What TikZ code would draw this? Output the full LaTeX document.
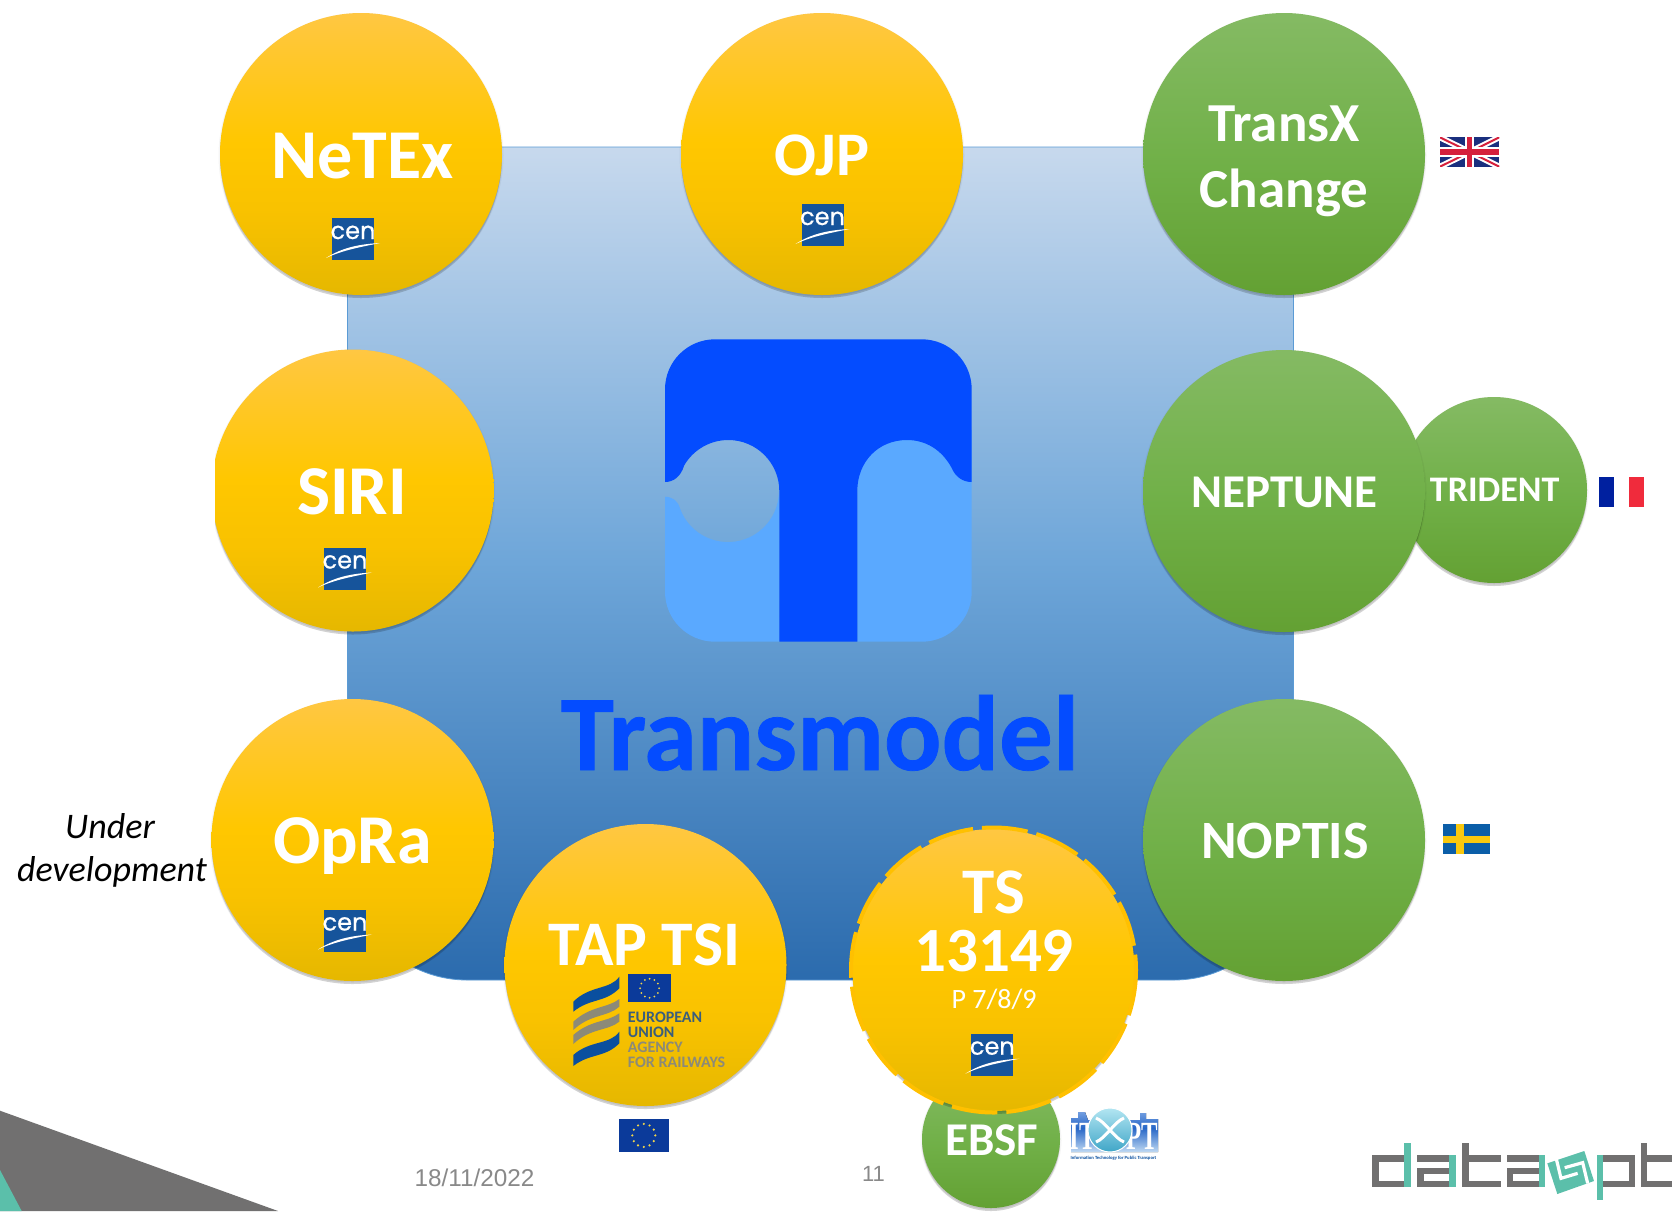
\documentclass[tikz,border=0pt]{standalone}
\usepackage{fontspec}
\usetikzlibrary{calc}
\setmainfont{Carlito}
\newfontfamily\arialf{Liberation Sans}
\newfontfamily\cenfont{Poppins}
\newfontfamily\serff{Liberation Serif}
\definecolor{rectline}{HTML}{5B9BD5}
\definecolor{tdark}{HTML}{044CFF}
\definecolor{tlight}{HTML}{5AA9FF}
\definecolor{cenblue}{HTML}{16549B}
\definecolor{teal4}{HTML}{5BBFAA}
\definecolor{gray4}{HTML}{717070}
\definecolor{ftgray}{HTML}{898989}
\definecolor{eublue}{HTML}{0B3A9A}
\definecolor{eustar}{HTML}{F2D64B}
\definecolor{ukblue}{HTML}{1A2F7E}
\definecolor{ukred}{HTML}{D5203C}
\definecolor{frblue}{HTML}{00209F}
\definecolor{frred}{HTML}{F02B3C}
\definecolor{seblue}{HTML}{0B5EA8}
\definecolor{seyel}{HTML}{F9C80E}
\definecolor{eraBlue}{HTML}{0A4F9F}
\definecolor{eraGray}{HTML}{8C8A78}
\definecolor{eraTxt}{HTML}{3A5E7C}
\definecolor{dashyel}{HTML}{FFC000}
\pgfdeclareverticalshading{bluerect}{100bp}{
  rgb(0bp)=(0.17,0.42,0.68); rgb(25bp)=(0.17,0.42,0.68);
  rgb(50bp)=(0.43,0.65,0.85); rgb(75bp)=(0.78,0.85,0.93); rgb(100bp)=(0.78,0.85,0.93)}
\pgfdeclareverticalshading{yelball}{100bp}{
  rgb(0bp)=(0.90,0.72,0.0); rgb(25bp)=(0.90,0.72,0.0);
  rgb(40bp)=(0.975,0.76,0.0); rgb(52bp)=(1,0.78,0.0);
  rgb(75bp)=(1,0.78,0.26); rgb(100bp)=(1,0.78,0.26)}
\pgfdeclareverticalshading{grnball}{100bp}{
  rgb(0bp)=(0.39,0.63,0.20); rgb(25bp)=(0.39,0.63,0.20);
  rgb(48bp)=(0.44,0.69,0.28);
  rgb(75bp)=(0.52,0.73,0.39); rgb(100bp)=(0.52,0.73,0.39)}
\pgfdeclareverticalshading{itxball}{100bp}{
  rgb(0bp)=(0.25,0.65,0.78); rgb(25bp)=(0.25,0.65,0.78);
  rgb(75bp)=(0.70,0.90,0.95); rgb(100bp)=(0.70,0.90,0.95)}
\pgfdeclareverticalshading{itxbar}{100bp}{
  rgb(0bp)=(0.75,0.85,0.95); rgb(25bp)=(0.75,0.85,0.95);
  rgb(55bp)=(0.15,0.40,0.78); rgb(75bp)=(0.45,0.62,0.88); rgb(100bp)=(0.45,0.62,0.88)}
\tikzset{
  ballshadow/.style={
    preaction={fill=black,fill opacity=.07,transform canvas={yshift=-1.5bp},draw=black,draw opacity=.04,line width=3bp},
    preaction={fill=black,fill opacity=.14,transform canvas={yshift=-3bp}}},
  ball/.style={circle,inner sep=0pt,outer sep=0pt,ballshadow},
  yball/.style={ball,shading=yelball},
  gball/.style={ball,shading=grnball},
  ltxt/.style={white,font=\bfseries,anchor=base,inner sep=0pt},
  ftxt/.style={ftgray,anchor=base,inner sep=0pt},
  cenbox/.style={rectangle,fill=cenblue,inner sep=0pt,minimum size=42bp},
  flagbox/.style={rectangle,inner sep=0pt,outer sep=0pt},
}
\newcommand{\fs}[1]{\fontsize{#1bp}{#1bp}\selectfont}
% CEN logo centred at named coordinate
\newcommand{\cenlogo}[3]{%
  \node[cenbox] (#1) at (#2,#3) {};
  \node[white,inner sep=0pt,anchor=base] (#1t) at (#2,#3) {\cenfont\fontsize{24bp}{24bp}\selectfont\addfontfeature{FakeBold=0.6}cen};
  \fill[white,shift={(#2,#3)}] (-27,19) .. controls (-10,8) and (8,5) .. (27,4)
     .. controls (8,8) and (-10,11) .. (-27,19) -- cycle;
}
\newcommand{\eustars}[4]{% cx cy r s
  \foreach \a in {0,30,...,330}{\fill[eustar] ($(#1,#2)+(\a:#3)$) circle[radius=#4];}}
\begin{document}
\begin{tikzpicture}[x=1bp,y=-1bp]
\useasboundingbox (0,0) rectangle (1672,1211);
\fill[white] (0,0) rectangle (1672,1211);
% corner triangles
\fill[gray4] (0,1110.7) -- (278,1211) -- (0,1211) -- cycle;
\fill[teal4] (0,1170) -- (21.7,1211) -- (0,1211) -- cycle;
% big rectangle
\path[shading=bluerect,draw=rectline,line width=.8bp]
  (347.5,147) -- (1293.5,147) -- (1293.5,860) arc[start angle=0,end angle=90,radius=120] -- (467.5,980)
  arc[start angle=90,end angle=180,radius=120] -- cycle;
% T logo
\fill[tlight] (665,496.7) .. controls (673,497) and (678,501) .. (680,508.5)
   arc[start angle=160,end angle=0,radius=51] -- (779.3,641.7) -- (715,641.7)
   arc[start angle=90,end angle=180,radius=50] -- cycle;
\fill[tlight] (857.3,430) -- (857.3,641.7) -- (921.7,641.7) arc[start angle=90,end angle=0,radius=50] -- (971.7,430) -- cycle;
\fill[tdark] (665,482) -- (665,389.3) arc[start angle=180,end angle=270,radius=50] -- (921.7,339.3)
   arc[start angle=270,end angle=360,radius=50] -- (971.7,482)
   .. controls (962,482) and (955,476) .. (951.7,468)
   .. controls (942,450) and (926,440) .. (907,440)
   .. controls (878,440) and (857.3,462) .. (857.3,491) -- (857.3,641.7) -- (779.3,641.7) -- (779.3,491)
   arc[start angle=0,end angle=-150,radius=51]
   .. controls (681,476) and (674,482) .. (665,482) -- cycle;
\node[text=tdark,font=\bfseries\fs{107}\addfontfeature{FakeBold=0.7},anchor=base,inner sep=0pt] (transmodel) at (820,770) {Transmodel};
% balls
\node[gball,minimum size=186bp] (trident) at (1494,490) {};
\node[ltxt,font=\bfseries\fs{36}] (tridentT) at (1494.7,501) {TRIDENT};
\node[yball,minimum size=282bp] (netex) at (361,154) {};
\node[ltxt,font=\bfseries\fs{70}] (netexT) at (362.5,178) {NeTEx};
\node[yball,minimum size=282bp] (ojp) at (822,154) {};
\node[ltxt,font=\bfseries\fs{62}] (ojpT) at (822,175) {OJP};
\node[gball,minimum size=282bp] (transx) at (1284,154) {};
\node[ltxt,font=\bfseries\fs{55}] (transxT) at (1284,141) {TransX};
\node[ltxt,font=\bfseries\fs{55}] (changeT) at (1284,207) {Change};
\begin{scope}
\clip (215,300) rectangle (560,680);
\node[yball,minimum size=282bp] (siri) at (352.7,490.5) {};
\end{scope}
\node[ltxt,font=\bfseries\fs{70}] (siriT) at (352,514.5) {SIRI};
\node[gball,minimum size=282bp] (neptune) at (1284,491) {};
\node[ltxt,font=\bfseries\fs{47}] (neptuneT) at (1284.5,507.6) {NEPTUNE};
\node[yball,minimum size=282bp] (opra) at (352.5,840) {};
\node[ltxt,font=\bfseries\fs{70}] (opraT) at (352.5,863.5) {OpRa};
\node[gball,minimum size=282bp] (noptis) at (1284,840) {};
\node[ltxt,font=\bfseries\fs{54}] (noptisT) at (1285,858.5) {NOPTIS};
\node[yball,minimum size=282bp] (tap) at (645.5,965) {};
\node[ltxt,font=\bfseries\fs{63.5}] (tapT) at (644.5,965) {TAP TSI};
\node[gball,minimum size=138bp] (ebsf) at (991,1139) {};
\node[ltxt,font=\bfseries\fs{47}] (ebsfT) at (991.7,1155) {EBSF};
\node[yball,minimum size=282bp] (ts) at (993.5,970) {};
\draw[dashyel,line width=4bp,dash pattern=on 46bp off 9bp] (ts.center) circle[radius=142.5];
\node[ltxt,font=\bfseries\fs{65}] (tsT) at (993.5,913.5) {TS};
\node[ltxt,font=\bfseries\fs{63}] (numT) at (994,971) {13149};
\node[white,anchor=base,inner sep=0pt,font=\fs{28}] (partT) at (994,1008) {P 7/8/9};
% CEN logos
\cenlogo{cenA}{353}{239}
\cenlogo{cenB}{822.5}{225}
\cenlogo{cenC}{345}{568.5}
\cenlogo{cenD}{345}{930.5}
\cenlogo{cenE}{992.3}{1054.7}
% ERA logo
\fill[eraBlue] (573.3,1001.7) .. controls (590,985) and (610,990) .. (619.3,976.7) -- (619.3,988.3) .. controls (605,1003) and (590,998) .. (573.3,1011.7) -- cycle;
\fill[eraGray] (573.3,1021.7) .. controls (590,1006) and (608,1008) .. (619.3,999) -- (619.3,1006.7) .. controls (608,1017) and (590,1014) .. (573.3,1030) -- cycle;
\fill[eraGray] (573.3,1035) .. controls (590,1020) and (608,1022) .. (619.3,1013.3) -- (619.3,1021.7) .. controls (608,1031) and (590,1028) .. (573.3,1044) -- cycle;
\fill[eraBlue] (573.3,1055) .. controls (590,1040) and (610,1045) .. (619.3,1031.7) -- (619.3,1043.3) .. controls (605,1058) and (590,1053) .. (573.3,1066) -- cycle;
\node[flagbox,fill=eublue,minimum width=42.7bp,minimum height=28bp] (eraflag) at (649.6,988.3) {};
\eustars{649.6}{988.3}{9.5}{1}
\node[text=eraTxt,font=\bfseries\fs{16},anchor=base west,inner sep=0pt] (eraA) at (627.7,1022.5) {EUROPEAN};
\node[text=eraTxt,font=\bfseries\fs{16},anchor=base west,inner sep=0pt] (eraB) at (627.7,1037.5) {UNION};
\node[text=eraGray,font=\bfseries\fs{16},anchor=base west,inner sep=0pt] (eraC) at (627.7,1052.5) {AGENCY};
\node[text=eraGray,font=\bfseries\fs{16},anchor=base west,inner sep=0pt] (eraD) at (627.7,1067.5) {FOR RAILWAYS};
% flags
\node[flagbox,fill=eublue,minimum width=49.7bp,minimum height=32.7bp] (euflag) at (643.8,1135.4) {};
\eustars{643.8}{1135.4}{11.5}{1.2}
% UK
\begin{scope}
\clip (1440,137.3) rectangle (1499.3,166.7);
\fill[ukblue] (1440,137.3) rectangle (1499.3,166.7);
\draw[white,line width=6bp] (1440,137.3) -- (1499.3,166.7) (1440,166.7) -- (1499.3,137.3);
\draw[ukred,line width=2bp] (1440,137.3) -- (1499.3,166.7) (1440,166.7) -- (1499.3,137.3);
\draw[white,line width=9.5bp] (1469.7,137.3) -- (1469.7,166.7) (1440,152) -- (1499.3,152);
\draw[ukred,line width=5.5bp] (1469.7,137.3) -- (1469.7,166.7) (1440,152) -- (1499.3,152);
\end{scope}
% France
\fill[frblue] (1599.3,477.3) rectangle (1614.3,506.7);
\fill[frred] (1629,477.3) rectangle (1644,506.7);
% Sweden
\fill[seblue] (1442.7,824) rectangle (1489.7,854);
\fill[seyel] (1456,824) rectangle (1464,854);
\fill[seyel] (1442.7,835.5) rectangle (1489.7,842.5);
% ITxPT
\fill[shading=itxbar] (1071,1118) -- (1078,1118) -- (1078,1112) -- (1085,1112) -- (1088,1120) -- (1130,1120) -- (1140,1120) -- (1140,1113) -- (1146,1113) -- (1146,1119) -- (1158,1119) -- (1158,1152) -- (1071,1152) -- cycle;
\node[white,anchor=base,inner sep=0pt,font=\bfseries\serff\fs{40}] (itxI) at (1083,1149) {\scalebox{.62}[1]{IT}};
\node[white,anchor=base,inner sep=0pt,font=\bfseries\serff\fs{40}] (itxP) at (1142,1149) {\scalebox{.62}[1]{PT}};
\node[circle,shading=itxball,draw=white,line width=1bp,minimum size=44bp,inner sep=0pt] (itxC) at (1110,1130) {};
\draw[white,line width=3bp] (1096,1118) .. controls (1106,1122) and (1114,1138) .. (1124,1142);
\draw[white,line width=3bp] (1096,1142) .. controls (1106,1138) and (1114,1122) .. (1124,1118);
\node[text=eraBlue,font=\bfseries\fs{4.7},inner sep=0pt,anchor=base] (itxTxt) at (1113.5,1159.5) {Information Technology for Public Transport};
% free texts
\node[black,font=\itshape\fs{36},anchor=base,inner sep=0pt] (under) at (110,838) {Under};
\node[black,font=\itshape\fs{36},anchor=base,inner sep=0pt] (devel) at (112,881) {development};
\node[ftxt,font=\arialf\fs{24.3}] (date) at (474.5,1186) {18/11/2022};
\node[ftxt,font=\arialf\fs{22}] (page) at (873.5,1181) {11};
% data4pt logo
\begin{scope}[shift={(1340,1100)},x=.3333bp,y=-.3333bp]
\clip (0,0) rectangle (996,333);
\fill[gray4] (97,165) rectangle (195,262);
\fill[white] (116,185) rectangle (195,243);
\fill[teal4] (193,128) rectangle (212,262);
\fill[gray4] (232,165) rectangle (330,185);
\fill[gray4] (232,204) rectangle (330,262);
\fill[white] (251,222) rectangle (330,243);
\fill[teal4] (328,165) rectangle (347,262);
\fill[gray4] (367,128) rectangle (386,262);
\fill[gray4] (386,165) rectangle (482,185);
\fill[gray4] (386,243) rectangle (482,262);
\fill[gray4] (500,165) rectangle (598,185);
\fill[gray4] (500,204) rectangle (598,262);
\fill[white] (519,222) rectangle (598,243);
\fill[teal4] (597,165) rectangle (615,262);
% rotated square
\fill[teal4] (622,190) -- (733,153) -- (762,243) -- (652,282) -- cycle;
\fill[teal4] (770,165) rectangle (789,300);
\fill[gray4] (789,165) rectangle (885,262);
\fill[white] (789,185) rectangle (866,243);
\fill[gray4] (903,128) rectangle (922,262);
\fill[gray4] (922,165) rectangle (1000,185);
\fill[gray4] (922,243) rectangle (1000,262);
\end{scope}
\begin{scope}[shift={(1540,1140)},x=.3333bp,y=-.3333bp]
\draw[white,line width=3.2bp,miter limit=4] (49,57) -- (63,115) -- (113,100);
\draw[white,line width=3.2bp,miter limit=4] (74,83) -- (128,68) -- (143,130);
\end{scope}
\end{tikzpicture}
\end{document}
